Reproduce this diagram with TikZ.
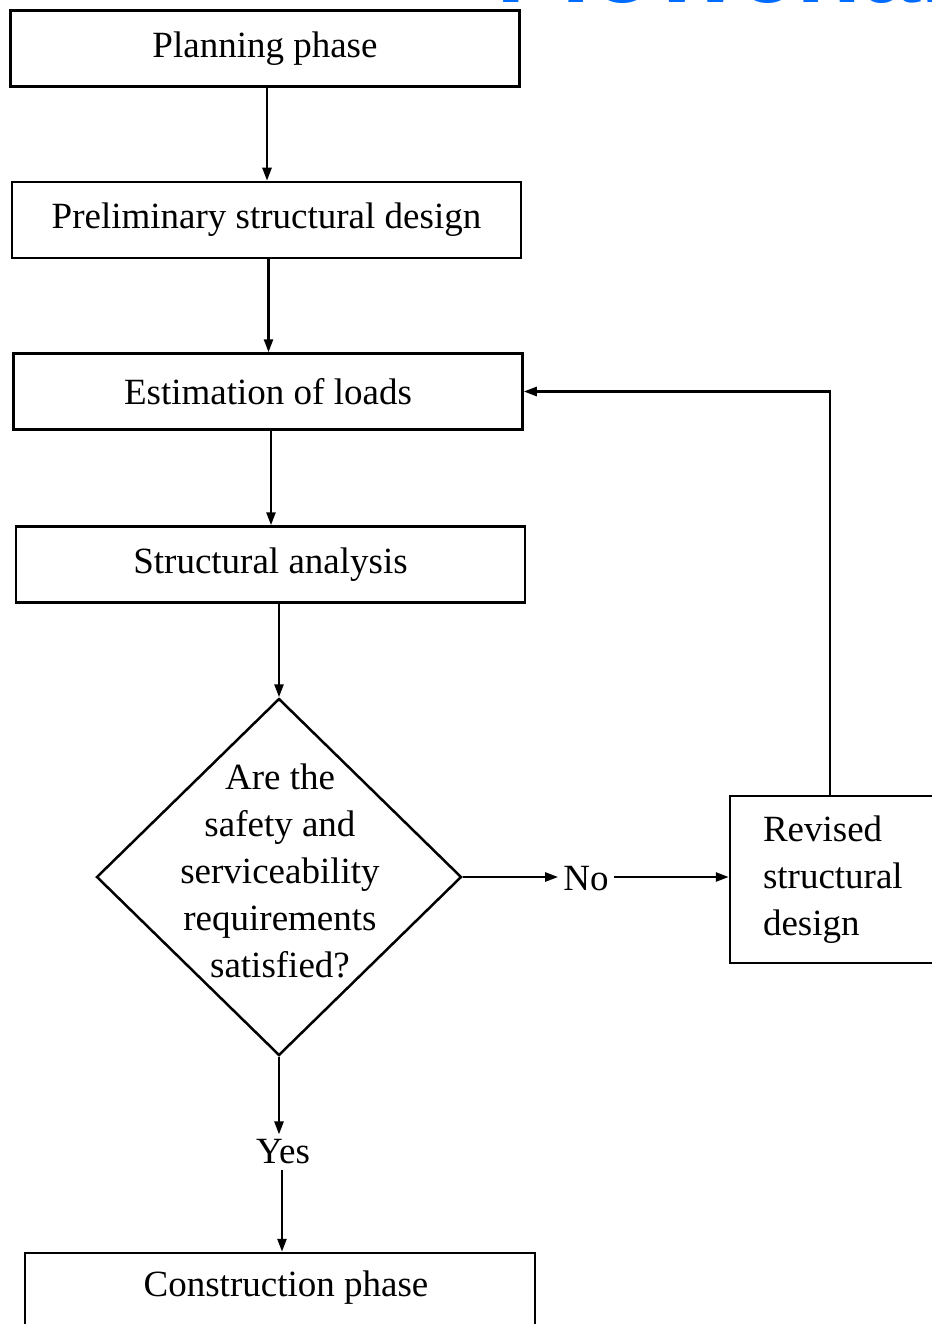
\documentclass[tikz,border=0pt]{standalone}
\usepackage{fontspec}
\setmainfont{Liberation Serif}
\newfontfamily\titlefont{Liberation Sans}
\usetikzlibrary{shapes.geometric,arrows.meta}
\definecolor{titleblue}{RGB}{0,108,255}
\tikzset{
	block/.style    = {draw, line width=2.5pt, rectangle, fill=white,
		minimum height = 76pt,
		minimum width = 509pt},
	test/.style     = {draw, line width=2.5pt, diamond, inner sep=0pt,
		minimum width = 365pt, minimum height = 357pt},
	label/.style    = {inner sep=4pt},
}

\begin{document}
\begin{tikzpicture}[ x=1pt, y=-1pt,
                       line width=2.5pt,                %<--setting line style
                       every node/.style={font=\fontsize{37}{47}\selectfont},
                       >/.tip={Triangle[length=13pt,width=9pt]}
                       ]
    \useasboundingbox (0,0) rectangle (931,1324);

    %-- Title (cut by the page edge) --%
    \node[anchor=base west, inner sep=0pt, text=titleblue,
          font=\titlefont\bfseries\fontsize{106}{120}\selectfont] (title) at (495,3) {Flowchart};

    %-- Blocks creation --%
    \draw
      % MAIN CHAIN %
      node(planning) at (265,48.5) [block] {Planning phase}
      node(preliminary) at (266.5,220) [block] {Preliminary structural design}
      node(estimation) at (268,391.5) [block] {Estimation of loads}
      node(analysis) at (270.5,564.5) [block] {Structural analysis}
    ;
    \draw
      % CHECK %
      node(check) at (279,877) [test] {}
      node(checkText) at (280,871) [align=center] {Are the\\safety and\\serviceability\\requirements\\satisfied?}
      node(no) at (586,879) [label] {No}
      node(yes) at (283,1152) [label] {Yes}
    ;
    \draw
      % REVISION AND END %
      node(revised) at (840,879.5) [block, minimum width=220pt, minimum height=167pt,
                                    text width=154pt, align=left] {Revised\\structural\\design}
      node(construction) at (280,1303) [block, minimum width=510pt, minimum height=100pt] {}
      node(constructionText) at (286,1288) {Construction phase}
    ;

    %-- Block linking --%
    \draw[->] ([xshift=2pt]planning.south)     -- ([xshift=2pt]planning.south |- preliminary.north);
    \draw[->] ([xshift=2pt]preliminary.south)  -- ([xshift=2pt]preliminary.south |- estimation.north);
    \draw[->] ([xshift=3pt]estimation.south)   -- ([xshift=3pt]estimation.south |- analysis.north);
    \draw[->] (check.north |- analysis.south)  -- (check.north);

    % NO BRANCH %
    \draw[->] (check.east)   -- (no.west |- check.east);
    \draw[->] (no.east |- check.east) -- (revised.west |- check.east);
    \draw[->] ([xshift=-10pt]revised.north) |- (estimation.east);

    % YES BRANCH %
    \draw[->] (check.south)  -- (check.south |- yes.north);
    \draw[->] ([xshift=3pt]check.south |- yes.south) -- ([xshift=3pt]check.south |- construction.north);

\end{tikzpicture}
\end{document}
